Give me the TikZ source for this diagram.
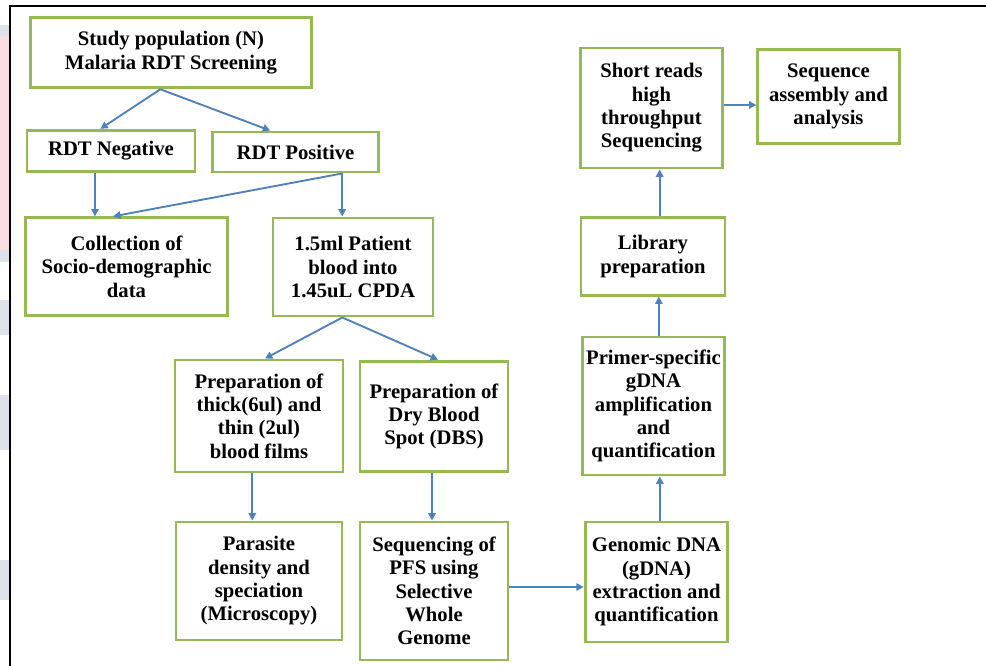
\documentclass[tikz,border=0pt]{standalone}
\usepackage{fontspec}
\setmainfont{Liberation Serif}
\usetikzlibrary{arrows.meta}
\definecolor{boxgreen}{RGB}{150,185,85}
\definecolor{arrowblue}{RGB}{79,129,189}
\definecolor{stripink}{RGB}{250,222,226}
\definecolor{stripgray}{RGB}{222,226,236}

\begin{document}
\begin{tikzpicture}[x=0.75pt, y=-0.75pt,
    stagebox/.style={draw=boxgreen, line width=2.2pt, fill=white, align=center, inner sep=2pt,
        font=\bfseries\fontsize{15.5}{17.5}\selectfont},
    flow/.style={draw=arrowblue, line width=1.4pt, -{Triangle[length=5.5pt, width=5.5pt]}}]
        \useasboundingbox (0,0) rectangle (986,666);
        \fill[white] (0,0) rectangle (986,666);

        %left strip and frame
        \fill[stripgray] (0,25) rectangle (9,36);
        \fill[stripink] (0,36) rectangle (9,250);
        \fill[stripgray] (0,250) rectangle (9,262);
        \fill[stripgray] (0,300) rectangle (9,335);
        \fill[stripgray] (0,395) rectangle (9,450);
        \fill[stripgray] (0,560) rectangle (9,600);
        \draw[line width=1.6pt] (986,6) -- (10,6) -- (10,666);

        %nodes
        \node[stagebox, minimum width=211pt, minimum height=53pt] (sp) at (171,52.5) {Study population (N)\\Malaria RDT Screening};
        \node[stagebox, minimum width=126pt, minimum height=31pt] (neg) at (111,151) {RDT Negative};
        \node[stagebox, minimum width=124pt, minimum height=30pt] (pos) at (295.5,152) {RDT Positive};
        \node[stagebox, minimum width=152pt, minimum height=73pt] (col) at (126.5,266.5) {Collection of\\Socio-demographic\\data};
        \node[stagebox, minimum width=120pt, minimum height=73.5pt] (pat) at (353,267) {1.5ml Patient\\blood into\\1.45uL CPDA};
        \node[stagebox, minimum width=126pt, minimum height=84pt] (thk) at (259,416) {Preparation of\\thick(6ul) and\\thin (2ul)\\blood films};
        \node[stagebox, minimum width=111pt, minimum height=83pt] (dbs) at (434,416.5) {Preparation of\\Dry Blood\\Spot (DBS)};
        \node[stagebox, minimum width=124.5pt, minimum height=88.5pt] (par) at (259,581) {Parasite\\density and\\speciation\\(Microscopy)};
        \node[stagebox, minimum width=111pt, minimum height=103.5pt] (pfs) at (434,591) {Sequencing of\\PFS using\\Selective\\Whole\\Genome};
        \node[stagebox, minimum width=107pt, minimum height=90pt] (gen) at (656.5,582) {Genomic DNA\\(gDNA)\\extraction and\\quantification};
        \node[stagebox, minimum width=107pt, minimum height=103.5pt] (pri) at (653.5,406) {Primer-specific\\gDNA\\amplification\\and\\quantification};
        \node[stagebox, minimum width=108pt, minimum height=58pt] (lib) at (653,256.5) {Library\\preparation};
        \node[stagebox, minimum width=106pt, minimum height=90pt] (srt) at (651.5,108) {Short reads\\high\\throughput\\Sequencing};
        \node[stagebox, minimum width=106pt, minimum height=70pt] (asm) at (828.5,96.5) {Sequence\\assembly and\\analysis};

        %edges
        \draw[flow] ([xshift=-8pt]sp.south) -- ([xshift=-8pt]neg.north);
        \draw[flow] ([xshift=-8pt]sp.south) -- ([xshift=-19pt]pos.north);
        \coordinate (negout) at ([xshift=-12pt]neg.south);
        \draw[flow] (negout) -- (negout |- col.north);
        \coordinate (posout) at ([xshift=35pt]pos.south);
        \draw[flow] (posout) -- ([xshift=-10pt]col.north);
        \draw[flow] (posout) -- (posout |- pat.north);
        \draw[flow] ([xshift=-8pt]pat.south) -- ([xshift=4.5pt]thk.north);
        \draw[flow] ([xshift=-8pt]pat.south) -- ([xshift=3pt]dbs.north);
        \coordinate (thkout) at ([xshift=-5pt]thk.south);
        \draw[flow] (thkout) -- (thkout |- par.north);
        \coordinate (dbsout) at ([xshift=-1.5pt]dbs.south);
        \draw[flow] (dbsout) -- (dbsout |- pfs.north);
        \coordinate (pfsout) at ([yshift=3pt]pfs.east);
        \draw[flow] (pfsout) -- (pfsout -| gen.west);
        \coordinate (genout) at ([xshift=2.5pt]gen.north);
        \draw[flow] (genout) -- (genout |- pri.south);
        \coordinate (priout) at ([xshift=4pt]pri.north);
        \draw[flow] (priout) -- (priout |- lib.south);
        \coordinate (libout) at ([xshift=5pt]lib.north);
        \draw[flow] (libout) -- (libout |- srt.south);
        \coordinate (srtout) at ([yshift=2.25pt]srt.east);
        \draw[flow] (srtout) -- (srtout -| asm.west);
\end{tikzpicture}
\end{document}
